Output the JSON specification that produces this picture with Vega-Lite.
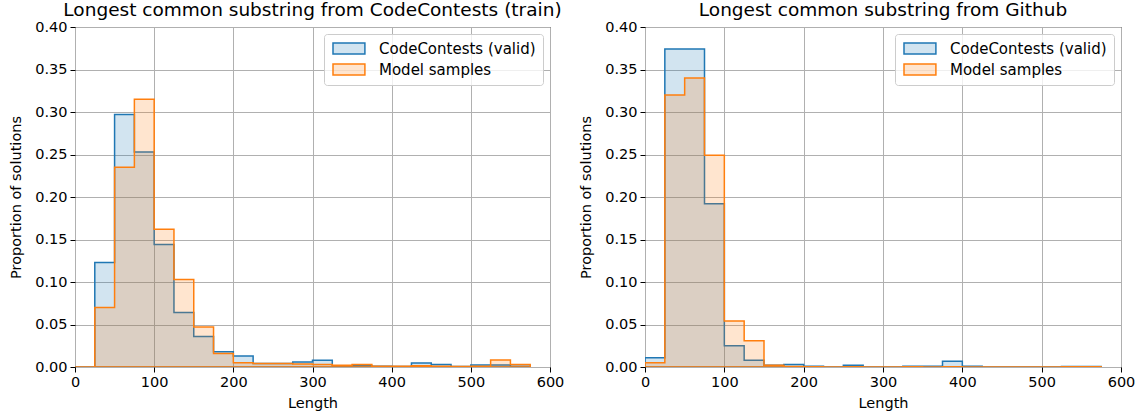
{
  "$schema": "https://vega.github.io/schema/vega-lite/v6.json",
  "padding": {"left": 8, "top": 0, "right": 5, "bottom": 2},
  "background": "white",
  "config": {
    "font": "DejaVu Sans",
    "view": {"stroke": "black", "strokeWidth": 1},
    "title": {"font": "DejaVu Sans", "fontSize": 18.5, "fontWeight": "normal", "color": "black", "offset": 0, "dy": 4, "baseline": "alphabetic"},
    "axis": {
      "labelFont": "DejaVu Sans", "titleFont": "DejaVu Sans",
      "labelFontSize": 14.5, "titleFontSize": 14.5, "titleFontWeight": "normal",
      "labelColor": "black", "titleColor": "black", "labelFlush": false,
      "tickColor": "black", "tickSize": 5, "domain": false,
      "gridColor": "#b0b0b0", "gridWidth": 1, "labelPadding": 3, "titlePadding": 11
    },
    "axisX": {"titlePadding": 8},
    "legend": {
      "labelFont": "DejaVu Sans", "labelFontSize": 15, "labelColor": "black",
      "fillColor": "rgba(255,255,255,0.8)", "strokeColor": "#cccccc", "cornerRadius": 3,
      "padding": 7, "rowPadding": 4, "offset": 7,
      "symbolType": "M-1,-1H4.8V1H-1Z", "symbolSize": 121, "symbolStrokeWidth": 1.5,
      "labelOffset": 33
    }
  },
  "datasets": {
    "hist": [
      {"panel": "train", "series": "CodeContests (valid)", "start": 0, "end": 25, "value": 0},
      {"panel": "train", "series": "CodeContests (valid)", "start": 25, "end": 50, "value": 0.123},
      {"panel": "train", "series": "CodeContests (valid)", "start": 50, "end": 75, "value": 0.297},
      {"panel": "train", "series": "CodeContests (valid)", "start": 75, "end": 100, "value": 0.253},
      {"panel": "train", "series": "CodeContests (valid)", "start": 100, "end": 125, "value": 0.144},
      {"panel": "train", "series": "CodeContests (valid)", "start": 125, "end": 150, "value": 0.064},
      {"panel": "train", "series": "CodeContests (valid)", "start": 150, "end": 175, "value": 0.036},
      {"panel": "train", "series": "CodeContests (valid)", "start": 175, "end": 200, "value": 0.018},
      {"panel": "train", "series": "CodeContests (valid)", "start": 200, "end": 225, "value": 0.013},
      {"panel": "train", "series": "CodeContests (valid)", "start": 225, "end": 250, "value": 0.004},
      {"panel": "train", "series": "CodeContests (valid)", "start": 250, "end": 275, "value": 0.004},
      {"panel": "train", "series": "CodeContests (valid)", "start": 275, "end": 300, "value": 0.006},
      {"panel": "train", "series": "CodeContests (valid)", "start": 300, "end": 325, "value": 0.008},
      {"panel": "train", "series": "CodeContests (valid)", "start": 325, "end": 350, "value": 0.0015},
      {"panel": "train", "series": "CodeContests (valid)", "start": 350, "end": 375, "value": 0.0015},
      {"panel": "train", "series": "CodeContests (valid)", "start": 375, "end": 400, "value": 0.001},
      {"panel": "train", "series": "CodeContests (valid)", "start": 400, "end": 425, "value": 0.0005},
      {"panel": "train", "series": "CodeContests (valid)", "start": 425, "end": 450, "value": 0.0047},
      {"panel": "train", "series": "CodeContests (valid)", "start": 450, "end": 475, "value": 0.003},
      {"panel": "train", "series": "CodeContests (valid)", "start": 475, "end": 500, "value": 0.0005},
      {"panel": "train", "series": "CodeContests (valid)", "start": 500, "end": 525, "value": 0.0024},
      {"panel": "train", "series": "CodeContests (valid)", "start": 525, "end": 550, "value": 0.0024},
      {"panel": "train", "series": "CodeContests (valid)", "start": 550, "end": 575, "value": 0.001},
      {"panel": "train", "series": "Model samples", "start": 0, "end": 25, "value": 0},
      {"panel": "train", "series": "Model samples", "start": 25, "end": 50, "value": 0.070},
      {"panel": "train", "series": "Model samples", "start": 50, "end": 75, "value": 0.235},
      {"panel": "train", "series": "Model samples", "start": 75, "end": 100, "value": 0.315},
      {"panel": "train", "series": "Model samples", "start": 100, "end": 125, "value": 0.162},
      {"panel": "train", "series": "Model samples", "start": 125, "end": 150, "value": 0.103},
      {"panel": "train", "series": "Model samples", "start": 150, "end": 175, "value": 0.047},
      {"panel": "train", "series": "Model samples", "start": 175, "end": 200, "value": 0.016},
      {"panel": "train", "series": "Model samples", "start": 200, "end": 225, "value": 0.005},
      {"panel": "train", "series": "Model samples", "start": 225, "end": 250, "value": 0.004},
      {"panel": "train", "series": "Model samples", "start": 250, "end": 275, "value": 0.004},
      {"panel": "train", "series": "Model samples", "start": 275, "end": 300, "value": 0.0035},
      {"panel": "train", "series": "Model samples", "start": 300, "end": 325, "value": 0.003},
      {"panel": "train", "series": "Model samples", "start": 325, "end": 350, "value": 0.002},
      {"panel": "train", "series": "Model samples", "start": 350, "end": 375, "value": 0.003},
      {"panel": "train", "series": "Model samples", "start": 375, "end": 400, "value": 0.001},
      {"panel": "train", "series": "Model samples", "start": 400, "end": 425, "value": 0.001},
      {"panel": "train", "series": "Model samples", "start": 425, "end": 450, "value": 0.0015},
      {"panel": "train", "series": "Model samples", "start": 450, "end": 475, "value": 0.001},
      {"panel": "train", "series": "Model samples", "start": 475, "end": 500, "value": 0.0005},
      {"panel": "train", "series": "Model samples", "start": 500, "end": 525, "value": 0.001},
      {"panel": "train", "series": "Model samples", "start": 525, "end": 550, "value": 0.0081},
      {"panel": "train", "series": "Model samples", "start": 550, "end": 575, "value": 0.0028},
      {"panel": "github", "series": "CodeContests (valid)", "start": 0, "end": 25, "value": 0.011},
      {"panel": "github", "series": "CodeContests (valid)", "start": 25, "end": 50, "value": 0.374},
      {"panel": "github", "series": "CodeContests (valid)", "start": 50, "end": 75, "value": 0.374},
      {"panel": "github", "series": "CodeContests (valid)", "start": 75, "end": 100, "value": 0.192},
      {"panel": "github", "series": "CodeContests (valid)", "start": 100, "end": 125, "value": 0.025},
      {"panel": "github", "series": "CodeContests (valid)", "start": 125, "end": 150, "value": 0.008},
      {"panel": "github", "series": "CodeContests (valid)", "start": 150, "end": 175, "value": 0.002},
      {"panel": "github", "series": "CodeContests (valid)", "start": 175, "end": 200, "value": 0.003},
      {"panel": "github", "series": "CodeContests (valid)", "start": 200, "end": 225, "value": 0.001},
      {"panel": "github", "series": "CodeContests (valid)", "start": 225, "end": 250, "value": 0},
      {"panel": "github", "series": "CodeContests (valid)", "start": 250, "end": 275, "value": 0.002},
      {"panel": "github", "series": "CodeContests (valid)", "start": 275, "end": 300, "value": 0},
      {"panel": "github", "series": "CodeContests (valid)", "start": 300, "end": 325, "value": 0},
      {"panel": "github", "series": "CodeContests (valid)", "start": 325, "end": 350, "value": 0.001},
      {"panel": "github", "series": "CodeContests (valid)", "start": 350, "end": 375, "value": 0.001},
      {"panel": "github", "series": "CodeContests (valid)", "start": 375, "end": 400, "value": 0.0067},
      {"panel": "github", "series": "CodeContests (valid)", "start": 400, "end": 425, "value": 0.001},
      {"panel": "github", "series": "CodeContests (valid)", "start": 425, "end": 450, "value": 0},
      {"panel": "github", "series": "CodeContests (valid)", "start": 450, "end": 475, "value": 0},
      {"panel": "github", "series": "CodeContests (valid)", "start": 475, "end": 500, "value": 0},
      {"panel": "github", "series": "CodeContests (valid)", "start": 500, "end": 525, "value": 0},
      {"panel": "github", "series": "CodeContests (valid)", "start": 525, "end": 550, "value": 0.0005},
      {"panel": "github", "series": "CodeContests (valid)", "start": 550, "end": 575, "value": 0.0005},
      {"panel": "github", "series": "Model samples", "start": 0, "end": 25, "value": 0.005},
      {"panel": "github", "series": "Model samples", "start": 25, "end": 50, "value": 0.320},
      {"panel": "github", "series": "Model samples", "start": 50, "end": 75, "value": 0.340},
      {"panel": "github", "series": "Model samples", "start": 75, "end": 100, "value": 0.249},
      {"panel": "github", "series": "Model samples", "start": 100, "end": 125, "value": 0.054},
      {"panel": "github", "series": "Model samples", "start": 125, "end": 150, "value": 0.031},
      {"panel": "github", "series": "Model samples", "start": 150, "end": 175, "value": 0.002},
      {"panel": "github", "series": "Model samples", "start": 175, "end": 200, "value": 0.0005},
      {"panel": "github", "series": "Model samples", "start": 200, "end": 225, "value": 0.0003},
      {"panel": "github", "series": "Model samples", "start": 225, "end": 250, "value": 0},
      {"panel": "github", "series": "Model samples", "start": 250, "end": 275, "value": 0.0003},
      {"panel": "github", "series": "Model samples", "start": 275, "end": 300, "value": 0},
      {"panel": "github", "series": "Model samples", "start": 300, "end": 325, "value": 0},
      {"panel": "github", "series": "Model samples", "start": 325, "end": 350, "value": 0.0003},
      {"panel": "github", "series": "Model samples", "start": 350, "end": 375, "value": 0},
      {"panel": "github", "series": "Model samples", "start": 375, "end": 400, "value": 0.0003},
      {"panel": "github", "series": "Model samples", "start": 400, "end": 425, "value": 0},
      {"panel": "github", "series": "Model samples", "start": 425, "end": 450, "value": 0},
      {"panel": "github", "series": "Model samples", "start": 450, "end": 475, "value": 0},
      {"panel": "github", "series": "Model samples", "start": 475, "end": 500, "value": 0},
      {"panel": "github", "series": "Model samples", "start": 500, "end": 525, "value": 0},
      {"panel": "github", "series": "Model samples", "start": 525, "end": 550, "value": 0.0003},
      {"panel": "github", "series": "Model samples", "start": 550, "end": 575, "value": 0.0003}
    ]
  },
  "hconcat": [
    {
      "title": "Longest common substring from CodeContests (train)",
      "width": 475, "height": 340,
      "data": {"name": "hist"},
      "transform": [
        {"filter": "datum.panel === 'train'"},
        {"fold": ["start", "end"], "as": ["edge", "x"]}
      ],
      "encoding": {
        "x": {"field": "x", "type": "quantitative", "scale": {"domain": [0, 600], "nice": false}, "axis": {"title": "Length", "values": [0, 100, 200, 300, 400, 500, 600]}},
        "y": {"field": "value", "type": "quantitative", "stack": null, "scale": {"domain": [0, 0.4], "nice": false}, "axis": {"title": "Proportion of solutions", "values": [0, 0.05, 0.1, 0.15, 0.2, 0.25, 0.3, 0.35, 0.4], "format": ".2f"}},
        "order": [{"field": "x", "type": "quantitative"}, {"field": "edge", "type": "nominal"}],
        "fill": {"field": "series", "type": "nominal", "scale": {"domain": ["CodeContests (valid)", "Model samples"], "range": ["#1f77b4", "#ff7f0e"]}, "legend": {"title": null, "orient": "top-right", "encode": {"symbols": {"update": {"fillOpacity": {"value": 0.2}, "strokeOpacity": {"value": 1}}}}}},
        "stroke": {"field": "series", "type": "nominal", "scale": {"domain": ["CodeContests (valid)", "Model samples"], "range": ["#1f77b4", "#ff7f0e"]}, "legend": {"title": null, "orient": "top-right"}}
      },
      "layer": [
        {"transform": [{"filter": "datum.series === 'CodeContests (valid)'"}], "mark": {"type": "area", "fillOpacity": 0.2, "strokeWidth": 1.5, "strokeJoin": "miter", "clip": true}},
        {"transform": [{"filter": "datum.series === 'Model samples'"}], "mark": {"type": "area", "fillOpacity": 0.2, "strokeWidth": 1.5, "strokeJoin": "miter", "clip": true}}
      ]
    },
    {
      "title": "Longest common substring from Github",
      "width": 476, "height": 340,
      "data": {"name": "hist"},
      "transform": [
        {"filter": "datum.panel === 'github'"},
        {"fold": ["start", "end"], "as": ["edge", "x"]}
      ],
      "encoding": {
        "x": {"field": "x", "type": "quantitative", "scale": {"domain": [0, 600], "nice": false}, "axis": {"title": "Length", "values": [0, 100, 200, 300, 400, 500, 600]}},
        "y": {"field": "value", "type": "quantitative", "stack": null, "scale": {"domain": [0, 0.4], "nice": false}, "axis": {"title": "Proportion of solutions", "values": [0, 0.05, 0.1, 0.15, 0.2, 0.25, 0.3, 0.35, 0.4], "format": ".2f"}},
        "order": [{"field": "x", "type": "quantitative"}, {"field": "edge", "type": "nominal"}],
        "fill": {"field": "series", "type": "nominal", "scale": {"domain": ["CodeContests (valid)", "Model samples"], "range": ["#1f77b4", "#ff7f0e"]}, "legend": {"title": null, "orient": "top-right", "encode": {"symbols": {"update": {"fillOpacity": {"value": 0.2}, "strokeOpacity": {"value": 1}}}}}},
        "stroke": {"field": "series", "type": "nominal", "scale": {"domain": ["CodeContests (valid)", "Model samples"], "range": ["#1f77b4", "#ff7f0e"]}, "legend": {"title": null, "orient": "top-right"}}
      },
      "layer": [
        {"transform": [{"filter": "datum.series === 'CodeContests (valid)'"}], "mark": {"type": "area", "fillOpacity": 0.2, "strokeWidth": 1.5, "strokeJoin": "miter", "clip": true}},
        {"transform": [{"filter": "datum.series === 'Model samples'"}], "mark": {"type": "area", "fillOpacity": 0.2, "strokeWidth": 1.5, "strokeJoin": "miter", "clip": true}}
      ]
    }
  ],
  "spacing": 13,
  "resolve": {"scale": {"fill": "independent", "stroke": "independent"}, "legend": {"fill": "independent", "stroke": "independent"}}
}
